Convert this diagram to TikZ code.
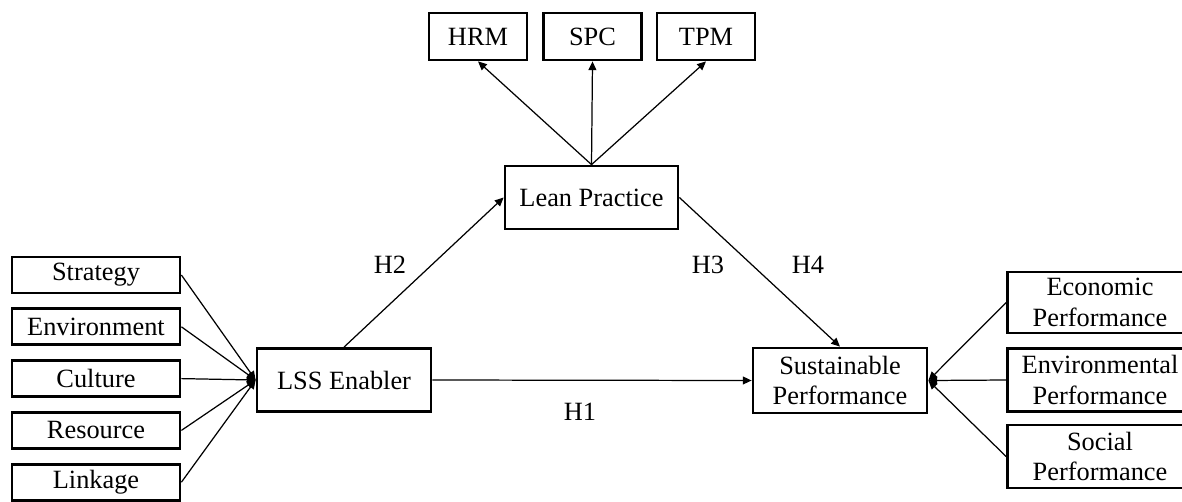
\documentclass[tikz,border=0pt]{standalone}
\usepackage{fontspec}
\setmainfont{Liberation Serif}
\usetikzlibrary{arrows.meta,positioning}

\begin{document}
\begin{tikzpicture}[
    x=0.02cm, y=-0.02cm,
    >={Triangle[length=5pt,width=4.5pt]},
    box/.style={
        rectangle,
        draw=black,
        line width=1.6pt,
        fill=white,
        inner sep=1pt,
        minimum width=#1,
        font=\fontsize{15}{17.5}\selectfont,
        align=center
    },
    box/.default=3.36cm,
    link/.style={->, line width=0.7pt},
    hyp/.style={font=\fontsize{15}{17.5}\selectfont}
]
\clip (0,0) rectangle (1182,501);

% Enablers on the left
\node[box, minimum height=0.72cm] (strategy) at (96,275) {Strategy};
\node[box, minimum height=0.72cm] (environment) [below=0.26cm of strategy] {Environment};
\node[box, minimum height=0.72cm] (culture)     [below=0.26cm of environment] {Culture};
\node[box, minimum height=0.72cm] (resource)    [below=0.26cm of culture] {Resource};
\node[box, minimum height=0.72cm] (linkage)     [below=0.26cm of resource] {Linkage};

% Main constructs
\node[box=3.48cm, minimum height=1.26cm] (lss)  at (344,380) {LSS Enabler};
\node[box=3.46cm, minimum height=1.26cm] (lean) at (591.5,197.5) {Lean Practice};
\node[box=3.48cm, minimum height=1.3cm]  (sus)  at (840,380.5) {Sustainable\\Performance};

% Lean practices on top
\node[box=1.96cm, minimum height=0.94cm] (hrm) at (478,36.5)   {HRM};
\node[box=1.96cm, minimum height=0.94cm] (spc) at (592.5,36.5) {SPC};
\node[box=1.96cm, minimum height=0.94cm] (tpm) at (706,36.5)   {TPM};

% Performance dimensions on the right
\node[box=3.7cm, minimum height=1.22cm] (eco) at (1100,302.5) {Economic\\Performance};
\node[box=3.7cm, minimum height=1.26cm] (env) at (1100,380)   {Environmental\\Performance};
\node[box=3.7cm, minimum height=1.26cm] (soc) at (1100,456.5) {Social\\Performance};

% Arrows
\foreach \n in {strategy,environment,culture,resource,linkage}
    \draw[link] (\n.east) -- (lss.west);
\foreach \n in {eco,env,soc}
    \draw[link] (\n.west) -- (sus.east);
\foreach \n in {hrm,spc,tpm}
    \draw[link] (lean.north) -- (\n.south);
\draw[link] (lss.east)   -- (sus.west);
\draw[link] (lss.north)  -- (lean.west);
\draw[link] (lean.east)  -- (sus.north);

% Hypotheses
\node[hyp] (h1) at (580,412) {H1};
\node[hyp] (h2) at (390,265) {H2};
\node[hyp] (h3) at (708,265) {H3};
\node[hyp] (h4) at (808,265) {H4};

\end{tikzpicture}
\end{document}
